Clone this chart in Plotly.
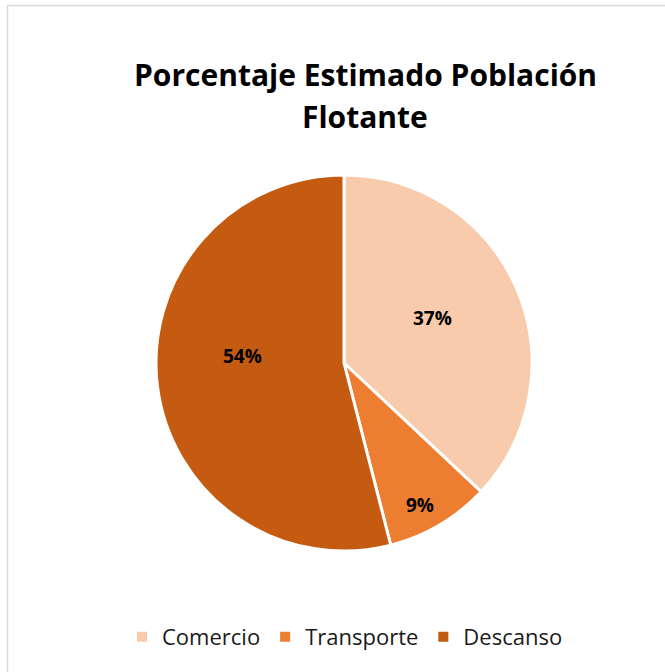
import math
import plotly.graph_objects as go

# Floating-population share by activity
categories = ["Comercio", "Transporte", "Descanso"]
shares = [37, 9, 54]
colors = ["#F8CBAD", "#ED7D31", "#C55A11"]

# Data-label placement: (radius as fraction of pie radius, angular nudge in degrees)
label_place = [(0.53, -3.4), (0.857, 2.4), (0.54, 11.2)]

W, H = 665, 672
PIE_X = [156 / W, 532 / W]
PIE_Y = [(H - 551) / H, (H - 175) / H]

fig = go.Figure(
    go.Pie(
        labels=categories,
        values=shares,
        sort=False,
        direction="clockwise",
        rotation=0,
        marker=dict(colors=colors, line=dict(color="white", width=3)),
        textinfo="none",
        hoverinfo="label+percent",
        domain=dict(x=PIE_X, y=PIE_Y),
    )
)

# Percentage labels placed around each slice's mid-angle
cx = (PIE_X[0] + PIE_X[1]) / 2 * W
cy = (PIE_Y[0] + PIE_Y[1]) / 2 * H
radius = (PIE_X[1] - PIE_X[0]) * W / 2
total = sum(shares)
start = 0.0
for share, (rf, nudge) in zip(shares, label_place):
    span = share / total * 360
    theta = math.radians(start + span / 2 + nudge)
    start += span
    px = cx + rf * radius * math.sin(theta)
    py = cy + rf * radius * math.cos(theta)
    fig.add_annotation(
        text=f"<b>{round(share / total * 100)}%</b>", x=px / W, y=py / H,
        xref="paper", yref="paper", showarrow=False,
        font=dict(family="Open Sans", size=19, color="black"),
        xanchor="center", yanchor="middle",
    )

# Two-line bold title
title_font = dict(family="Open Sans", size=30, color="black")
fig.add_annotation(
    text="<b>Porcentaje Estimado Población</b>", x=365 / W, y=(H - 74) / H,
    xref="paper", yref="paper", showarrow=False, font=title_font,
    xanchor="center", yanchor="middle",
)
fig.add_annotation(
    text="<b>Flotante</b>", x=365 / W, y=(H - 116) / H,
    xref="paper", yref="paper", showarrow=False, font=title_font,
    xanchor="center", yanchor="middle",
)

# Chart-area frame
fig.add_shape(
    type="rect", xref="paper", yref="paper",
    x0=7.5 / W, x1=1.05, y0=-0.05, y1=(H - 5.5) / H,
    line=dict(color="#D9D9D9", width=1.5), fillcolor="rgba(0,0,0,0)", layer="below",
)

fig.update_layout(
    width=W, height=H,
    margin=dict(l=0, r=0, t=0, b=0),
    paper_bgcolor="white",
    plot_bgcolor="white",
    showlegend=True,
    legend=dict(
        orientation="h", x=345 / W, xanchor="center", y=(H - 637) / H, yanchor="middle",
        font=dict(family="Open Sans", size=22, color="#1a1a1a"),
        itemsizing="constant", traceorder="normal",
    ),
)

fig.write_html("out.html")
